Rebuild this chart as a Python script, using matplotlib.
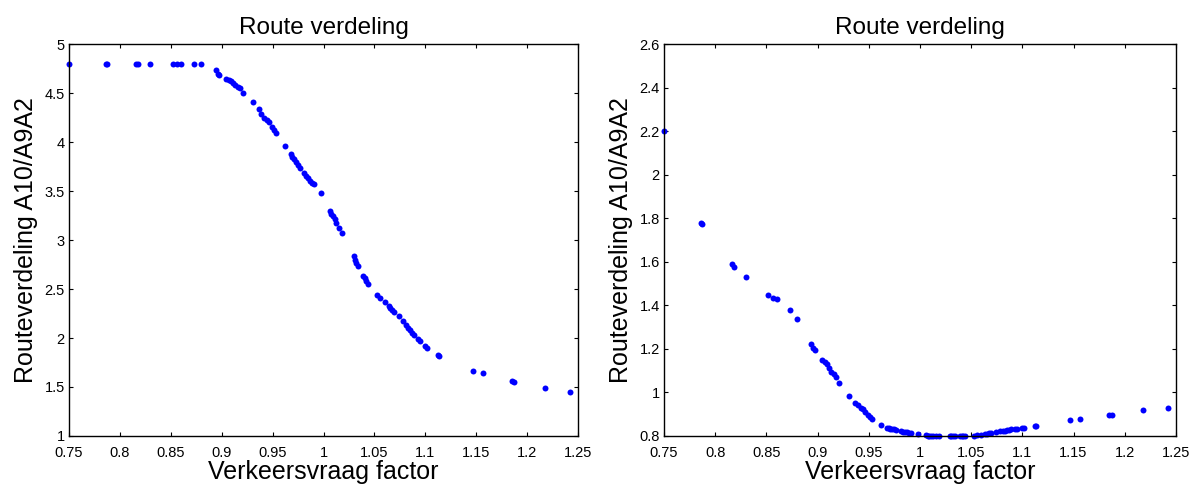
import numpy as np
import matplotlib
matplotlib.use("Agg")
import matplotlib.pyplot as plt

plt.rcParams["font.family"] = ["Liberation Sans", "DejaVu Sans"]

# verkeersvraag factor (gedeeld door beide grafieken)
factor = [0.750, 0.786, 0.787, 0.816, 0.818, 0.830, 0.852, 0.856, 0.860, 0.873,
          0.880, 0.894, 0.896, 0.897, 0.9045, 0.907, 0.909, 0.911, 0.9135, 0.916,
          0.918, 0.921, 0.931, 0.937, 0.939, 0.942, 0.944, 0.9465, 0.949, 0.951,
          0.9535, 0.962, 0.968, 0.9694, 0.971, 0.973, 0.975, 0.977, 0.981, 0.983,
          0.985, 0.987, 0.989, 0.991, 0.998, 1.006, 1.0077, 1.009, 1.011, 1.0126,
          1.0156, 1.0186, 1.0295, 1.0306, 1.032, 1.034, 1.039, 1.0407, 1.042, 1.0437,
          1.053, 1.0555, 1.060, 1.064, 1.0655, 1.0677, 1.0696, 1.0745, 1.078, 1.081,
          1.083, 1.085, 1.0868, 1.0887, 1.0928, 1.0947, 1.0996, 1.1018, 1.1123, 1.1138,
          1.1469, 1.1566, 1.185, 1.1874, 1.2174, 1.2418]

# routeverdeling, linker grafiek
verdeling_links = [4.80, 4.80, 4.80, 4.80, 4.80, 4.80, 4.80, 4.80, 4.80, 4.80,
                   4.80, 4.74, 4.70, 4.68, 4.645, 4.63, 4.62, 4.60, 4.58, 4.56,
                   4.548, 4.50, 4.408, 4.337, 4.289, 4.241, 4.23, 4.20, 4.15, 4.119,
                   4.092, 3.963, 3.878, 3.85, 3.826, 3.80, 3.765, 3.735, 3.68, 3.653,
                   3.629, 3.602, 3.578, 3.568, 3.48, 3.296, 3.269, 3.245, 3.214, 3.173,
                   3.126, 3.068, 2.833, 2.80, 2.768, 2.735, 2.636, 2.612, 2.582, 2.554,
                   2.435, 2.412, 2.371, 2.323, 2.306, 2.282, 2.269, 2.224, 2.173, 2.136,
                   2.105, 2.078, 2.048, 2.031, 1.986, 1.969, 1.922, 1.898, 1.823, 1.816,
                   1.667, 1.639, 1.561, 1.547, 1.49, 1.449]

# routeverdeling, rechter grafiek
verdeling_rechts = [2.20, 1.78, 1.775, 1.59, 1.575, 1.53, 1.447, 1.435, 1.43, 1.378,
                    1.336, 1.222, 1.205, 1.195, 1.151, 1.14, 1.131, 1.111, 1.096, 1.085,
                    1.071, 1.044, 0.983, 0.95, 0.942, 0.93, 0.926, 0.91, 0.895, 0.887,
                    0.876, 0.852, 0.838, 0.836, 0.834, 0.832, 0.830, 0.827, 0.823, 0.820,
                    0.818, 0.816, 0.815, 0.814, 0.808, 0.803, 0.802, 0.801, 0.80, 0.80,
                    0.80, 0.80, 0.80, 0.80, 0.80, 0.80, 0.80, 0.80, 0.80, 0.80,
                    0.801, 0.803, 0.805, 0.808, 0.81, 0.812, 0.814, 0.818, 0.821, 0.823,
                    0.825, 0.827, 0.829, 0.830, 0.832, 0.833, 0.835, 0.836, 0.847, 0.848,
                    0.874, 0.879, 0.896, 0.896, 0.918, 0.929]

x_ticks = [0.75, 0.8, 0.85, 0.9, 0.95, 1, 1.05, 1.1, 1.15, 1.2, 1.25]
x_labels = ["0.75", "0.8", "0.85", "0.9", "0.95", "1", "1.05", "1.1", "1.15", "1.2", "1.25"]
y_ticks_links = [1, 1.5, 2, 2.5, 3, 3.5, 4, 4.5, 5]
y_labels_links = ["1", "1.5", "2", "2.5", "3", "3.5", "4", "4.5", "5"]
y_ticks_rechts = [0.8, 1, 1.2, 1.4, 1.6, 1.8, 2, 2.2, 2.4, 2.6]
y_labels_rechts = ["0.8", "1", "1.2", "1.4", "1.6", "1.8", "2", "2.2", "2.4", "2.6"]

fig = plt.figure(figsize=(11.96, 4.88), dpi=100)
ax1 = fig.add_axes([0.0577, 0.1066, 0.4256, 0.803])
ax2 = fig.add_axes([0.5552, 0.1066, 0.428, 0.803])

panels = [
    (ax1, verdeling_links, y_ticks_links, y_labels_links),
    (ax2, verdeling_rechts, y_ticks_rechts, y_labels_rechts),
]
for ax, y, yt, yl in panels:
    ax.plot(factor, y, "o", color="#0000ff", markersize=4.3, markeredgewidth=0,
            clip_on=False)
    ax.set_xlim(0.75, 1.25)
    ax.set_ylim(yt[0], yt[-1])
    ax.set_xticks(x_ticks)
    ax.set_xticklabels(x_labels)
    ax.set_yticks(yt)
    ax.set_yticklabels(yl)
    ax.tick_params(direction="in", top=True, right=True, length=3, width=0.8,
                   labelsize=10.5)
    ax.tick_params(axis="x", pad=7)
    ax.tick_params(axis="y", pad=3)
    for s in ax.spines.values():
        s.set_linewidth(1.0)
    ax.set_title("Route verdeling", fontsize=17.5, pad=7)
    ax.set_xlabel("Verkeersvraag factor", fontsize=18, labelpad=0)
    ax.set_ylabel("Routeverdeling A10/A9A2", fontsize=18, labelpad=5)

fig.savefig("out.png", dpi=100)
